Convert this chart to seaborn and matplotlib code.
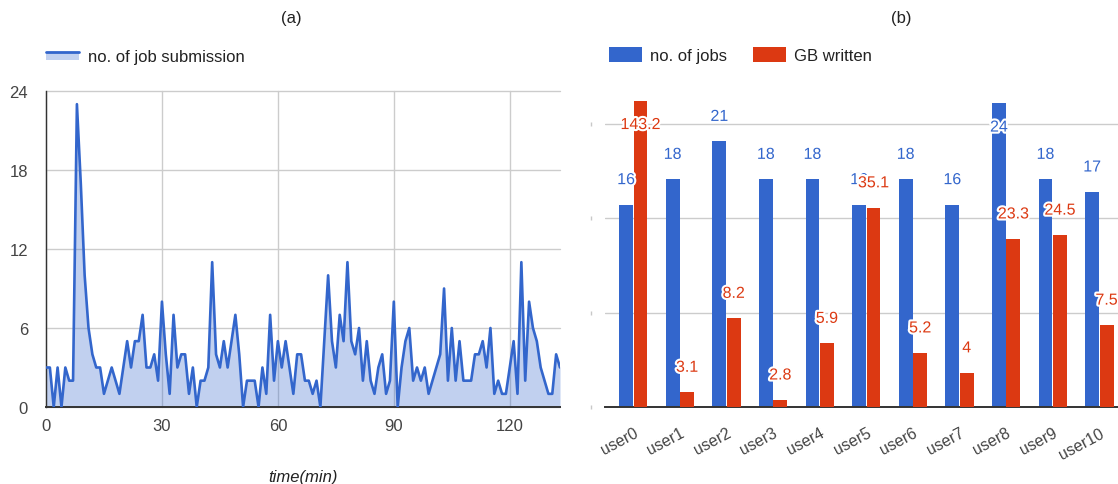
import matplotlib
matplotlib.use("Agg")
import matplotlib.pyplot as plt
import matplotlib.patheffects as pe
import matplotlib.transforms as mtransforms
from matplotlib.patches import Patch, Rectangle
from matplotlib.lines import Line2D
from matplotlib.legend_handler import HandlerBase
import pandas as pd
import seaborn as sns

# ---- data -------------------------------------------------------------
minutes = list(range(134))
submissions = [
    3, 3, 0, 3, 0, 3, 2, 2, 23, 17,
    10, 6, 4, 3, 3, 1, 2, 3, 2, 1,
    3, 5, 3, 5, 5, 7, 3, 3, 4, 2,
    8, 4, 1, 7, 3, 4, 4, 1, 3, 0,
    2, 2, 3, 11, 4, 3, 5, 3, 5, 7,
    4, 0, 2, 2, 2, 0, 3, 1, 7, 2,
    5, 3, 5, 3, 1, 4, 4, 2, 2, 1,
    2, 0, 5, 10, 5, 3, 7, 5, 11, 5,
    4, 6, 2, 5, 2, 1, 3, 4, 1, 2,
    8, 0, 3, 5, 6, 2, 3, 2, 3, 1,
    2, 3, 4, 9, 2, 6, 2, 5, 2, 2,
    2, 4, 4, 5, 3, 6, 1, 2, 1, 1,
    3, 5, 1, 11, 2, 8, 6, 5, 3, 2,
    1, 1, 4, 3,
]
time_ticks = [0, 30, 60, 90, 120]
count_ticks = [0, 6, 12, 18, 24]

users = ["user0", "user1", "user2", "user3", "user4", "user5",
         "user6", "user7", "user8", "user9", "user10"]
jobs = [16, 18, 21, 18, 18, 16, 18, 16, 24, 18, 17]
gb_written = [143.2, 3.1, 8.2, 2.8, 5.9, 35.1, 5.2, 4, 23.3, 24.5, 7.5]
series_names = ["no. of jobs", "GB written"]

# ---- style ------------------------------------------------------------
BLUE = "#3366cc"
RED = "#dc3912"
FILL = "#c2d1f0"
GRID = "#cccccc"
TICK = "#444444"
sns.set_theme(style="white")
plt.rcParams["font.family"] = ["Liberation Sans", "DejaVu Sans"]
plt.rcParams["font.size"] = 12

W, H = 1118, 485
fig = plt.figure(figsize=(W / 100, H / 100), dpi=100)
fig.patch.set_facecolor("white")


def frame(x0, x1, y_top, y_bot):
    return [x0 / W, 1 - y_bot / H, (x1 - x0) / W, (y_bot - y_top) / H]


class AreaHandler(HandlerBase):
    """Legend key for an area series: a line with a light band under it."""

    def create_artists(self, legend, orig_handle, xdescent, ydescent,
                       width, height, fontsize, trans):
        x0, y0 = -xdescent, -ydescent
        top = y0 + height * 0.75
        band = Rectangle((x0, y0), width, height * 0.75, facecolor=FILL,
                         lw=0, transform=trans)
        edge = Line2D([x0, x0 + width], [top, top], color=BLUE, lw=2,
                      transform=trans)
        return [band, edge]


# ---- (a) job submissions over time ---------------------------------------
ax = fig.add_axes(frame(46, 560, 92, 408))
sns.lineplot(x=minutes, y=submissions, ax=ax, color=BLUE, lw=1.9, zorder=3)
ax.fill_between(minutes, submissions, 0, color=BLUE, alpha=0.3, lw=0, zorder=2)
ax.set_xlim(0, 133)
ax.set_ylim(0, 24)
ax.set_xticks(time_ticks)
ax.set_yticks(count_ticks)
ax.set_xticklabels([str(v) for v in time_ticks])
ax.set_yticklabels([str(v) for v in count_ticks])
ax.tick_params(axis="both", length=0, labelsize=12, colors=TICK)
ax.tick_params(axis="y", pad=13)
ax.tick_params(axis="x", pad=8)
ax.grid(True, color=GRID, lw=1, zorder=0)
for gl in ax.get_ygridlines() + ax.get_xgridlines():
    gl.set_clip_on(False)
ax.set_axisbelow(True)
for s in ("top", "right"):
    ax.spines[s].set_visible(False)
ax.spines["left"].set_color("#333333")
ax.spines["left"].set_linewidth(1)
ax.spines["bottom"].set_color("#333333")
ax.spines["bottom"].set_linewidth(1.4)
ax.set_xlabel("time(min)", fontstyle="italic", fontsize=12, color="#222222",
              labelpad=26)
ax.set_ylabel("")

ax.legend([object()], ["no. of job submission"],
          handler_map={object: AreaHandler()},
          loc="center left", bbox_to_anchor=(0.0, 1 + (92 - 57) / 316),
          frameon=False, borderaxespad=0, borderpad=0,
          handlelength=1.95, handleheight=0.6, handletextpad=0.55,
          fontsize=12, labelcolor="#222222")

# ---- (b) jobs and data written per user ------------------------------------
axb = fig.add_axes(frame(605, 1118, 95, 408))
palette = {series_names[0]: BLUE, series_names[1]: RED}
df_users = pd.concat([
    pd.DataFrame({"user": users, "value": jobs, "series": series_names[0]}),
    pd.DataFrame({"user": users, "value": gb_written, "series": series_names[1]}),
], ignore_index=True)

bar_kw = dict(data=df_users, x="user", y="value", hue="series",
              hue_order=series_names, palette=palette, order=users,
              width=0.62, gap=0.04, saturation=1, linewidth=0,
              errorbar=None, legend=False)

# jobs on the left (linear) scale, data written on a log twin scale;
# each axes keeps only its own series visible
sns.barplot(ax=axb, **bar_kw)
axb2 = axb.twinx()
sns.barplot(ax=axb2, **bar_kw)
for patch in axb.containers[1]:
    patch.set_visible(False)
for patch in axb2.containers[0]:
    patch.set_visible(False)

JOBS_MAX = 24.75
axb.set_ylim(0, JOBS_MAX)
axb2.set_yscale("log")
axb2.set_ylim(2.554, 156.9)
axb.set_xlim(-0.607, 10.40)

grid_vals = [JOBS_MAX * k * 94.3 / 313 for k in (1, 2, 3)]
axb.set_yticks(grid_vals)
axb.set_yticklabels([])
axb.grid(True, axis="y", color=GRID, lw=1)
axb.grid(False, axis="x")
axb.tick_params(axis="y", length=0)
axb2.set_yticks([])
axb2.minorticks_off()
axb2.tick_params(axis="y", which="both", length=0, labelright=False)
axb2.set_ylabel("")
axb.set_ylabel("")
axb.set_xlabel("")
axb2.set_xlabel("")
for a in (axb, axb2):
    for s in ("top", "right", "left", "bottom"):
        a.spines[s].set_visible(False)
axb.spines["bottom"].set_visible(True)
axb.spines["bottom"].set_color("#333333")
axb.spines["bottom"].set_linewidth(1.4)
axb2.grid(False)

# faint markers left of the plot area at each grid level
marks = mtransforms.blended_transform_factory(axb.transAxes, axb.transData)
axb.plot([-0.0273] * 4, [0] + grid_vals, ls="", marker="|", ms=3, mew=1,
         color="#c8c8c8", transform=marks, clip_on=False)

axb.set_xticks(range(len(users)))
axb.set_xticklabels(users, rotation=28, ha="right", rotation_mode="anchor",
                    fontsize=11.5, color=TICK)
axb.tick_params(axis="x", length=0, pad=13)

# value labels above each bar (inside the bar when there is no room)
halo = [pe.withStroke(linewidth=3, foreground="white")]
fig.canvas.draw()
ax_h = 313.0


def put_label(target_ax, xpos, value, color):
    disp = target_ax.transData.transform((xpos, value))
    frac = target_ax.transAxes.inverted().transform(disp)[1]
    off = 18 if frac * ax_h + 25 <= ax_h else -17
    axb2.annotate(f"{value:g}", xy=(xpos, value), xycoords=target_ax.transData,
                  xytext=(0, off), textcoords="offset points",
                  ha="center", va="center", fontsize=11.5, color=color,
                  path_effects=halo, zorder=10, annotation_clip=False)


for patch, v in zip(axb.containers[0], jobs):
    put_label(axb, patch.get_x() + patch.get_width() / 2, v, BLUE)
for patch, v in zip(axb2.containers[1], gb_written):
    put_label(axb2, patch.get_x() + patch.get_width() / 2, v, RED)

axb.legend([Patch(facecolor=BLUE, lw=0), Patch(facecolor=RED, lw=0)],
           series_names, ncol=2, loc="center left",
           bbox_to_anchor=((609 - 605) / 513, 1 + (95 - 56) / 313),
           frameon=False, borderaxespad=0, borderpad=0,
           handlelength=1.98, handleheight=1.0, handletextpad=0.45,
           columnspacing=1.6, fontsize=12, labelcolor="#222222")

fig.text(291 / W, 1 - 18 / H, "(a)", ha="center", va="center", fontsize=12,
         color="#222222")
fig.text(901 / W, 1 - 18 / H, "(b)", ha="center", va="center", fontsize=12,
         color="#222222")

fig.savefig("out.png", dpi=100, facecolor="white")
